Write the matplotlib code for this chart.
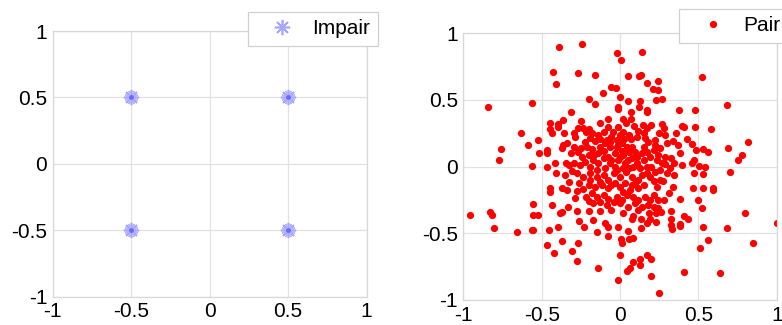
import matplotlib.pyplot as plt

# Impair: 4 constellation points
impair_x = [-0.5, 0.5, -0.5, 0.5]
impair_y = [0.5, 0.5, -0.5, -0.5]

# Pair: noisy cloud
pair_pts = [
    (-0.39, 0.90), (-0.245, 0.92), (-0.02, 0.855), (0.005, 0.80), (0.14, 0.86),
    (-0.43, 0.71), (-0.27, 0.70), (-0.16, 0.69), (-0.41, 0.62), (0.05, 0.68),
    (0.12, 0.68), (0.135, 0.69), (0.525, 0.675), (0.17, 0.63), (0.245, 0.64),
    (0.21, 0.585), (0.24, 0.575), (-0.06, 0.60), (-0.025, 0.59), (-0.11, 0.55),
    (-0.20, 0.51), (0.0, 0.52), (0.05, 0.49), (0.125, 0.49), (0.23, 0.50),
    (0.27, 0.505), (-0.565, 0.48), (-0.845, 0.45), (-0.16, 0.47), (-0.01, 0.445),
    (-0.015, 0.43), (0.12, 0.445), (0.175, 0.425), (0.175, 0.41), (0.375, 0.425),
    (0.48, 0.425), (0.685, 0.46), (-0.31, 0.41), (0.07, 0.41), (-0.635, 0.255),
    (0.58, 0.28), (0.395, 0.305), (0.41, 0.30), (0.48, 0.30), (-0.59, 0.16),
    (-0.76, 0.13), (-0.77, 0.05), (-0.525, 0.20), (-0.515, 0.10), (0.815, 0.185),
    (0.69, 0.14), (0.775, 0.09), (0.755, 0.05), (0.70, -0.04), (0.545, 0.0),
    (0.53, 0.135), (0.56, 0.11), (0.485, 0.125), (0.46, 0.17), (0.43, 0.21),
    (0.37, 0.16), (0.385, 0.10), (0.475, 0.05), (0.46, 0.025), (0.395, 0.0125),
    (0.505, 0.0075), (0.47, -0.05), (0.53, -0.055), (0.465, -0.16), (0.53, -0.16),
    (0.595, -0.16), (0.595, -0.175), (0.38, -0.245), (0.495, -0.25), (0.525, -0.31),
    (0.325, -0.33), (0.405, -0.37), (0.435, -0.395), (0.38, -0.43), (0.38, -0.445),
    (0.325, -0.39), (0.325, -0.44), (0.33, -0.465), (0.80, -0.35), (1.0, -0.42),
    (0.685, -0.46), (0.53, -0.45), (0.56, -0.55), (0.51, -0.61), (0.85, -0.57),
    (0.64, -0.80), (0.41, -0.79), (0.25, -0.95), (0.195, -0.82), (0.17, -0.66),
    (0.195, -0.695), (0.125, -0.74), (0.13, -0.69), (0.08, -0.715), (0.045, -0.78),
    (0.065, -0.76), (-0.015, -0.85), (-0.14, -0.76), (0.0, -0.66), (0.005, -0.54),
    (0.015, -0.57), (0.06, -0.54), (0.05, -0.48), (-0.01, -0.45), (-0.08, -0.45),
    (-0.075, -0.52), (-0.15, -0.49), (-0.095, -0.42), (-0.26, -0.41), (-0.23, -0.45),
    (-0.27, -0.57), (-0.275, -0.71), (-0.305, -0.635), (-0.37, -0.56), (-0.42, -0.65),
    (-0.465, -0.59), (-0.455, -0.475), (-0.395, -0.45), (-0.37, -0.34), (-0.385, -0.35),
    (-0.33, -0.305), (-0.275, -0.33), (-0.20, -0.33), (-0.13, -0.33), (0.085, -0.37),
    (0.135, -0.39), (0.175, -0.42), (0.19, -0.395), (0.23, -0.415), (0.23, -0.35),
    (0.26, -0.34), (0.185, -0.35), (0.075, -0.395), (0.135, -0.46), (0.085, -0.535),
    (-0.565, -0.475), (-0.555, -0.475), (-0.655, -0.49), (-0.805, -0.46), (-0.83, -0.34),
    (-0.82, -0.36), (-0.955, -0.36), (-0.555, -0.36), (-0.525, -0.36), (-0.555, -0.28),
    (-0.56, 0.0075), (-0.465, 0.0), (-0.45, -0.16), (-0.45, -0.19), (-0.435, -0.29),
    (-0.465, 0.125), (-0.465, 0.10), (-0.415, 0.03), (-0.41, -0.05), (-0.37, 0.14),
    (-0.365, 0.16), (-0.445, 0.33), (-0.445, 0.28), (-0.435, 0.25), (-0.395, 0.32),
    (-0.365, 0.35), (-0.395, 0.295), (-0.36, 0.25), (-0.34, 0.175), (-0.295, 0.25),
    (-0.285, 0.22), (-0.27, 0.29), (-0.25, 0.34), (-0.235, 0.29), (-0.22, 0.26),
    (-0.20, 0.28), (-0.18, 0.25), (-0.13, 0.33), (-0.075, 0.36), (-0.075, 0.30),
    (-0.01, 0.30), (0.02, 0.355), (0.04, 0.33), (0.07, 0.36), (0.09, 0.305),
    (0.145, 0.31), (0.175, 0.29), (0.195, 0.31), (0.265, 0.32), (0.28, 0.29),
    (0.25, 0.25), (0.29, 0.235), (0.355, 0.255), (0.335, 0.195), (0.30, 0.18),
    (0.225, 0.20), (0.225, 0.16), (0.11, 0.22), (0.07, 0.205), (0.055, 0.24),
    (0.115, 0.265), (0.025, 0.205), (-0.02, 0.20), (-0.06, 0.225), (-0.085, 0.20),
    (-0.125, 0.21), (-0.16, 0.195), (-0.25, 0.14), (-0.295, 0.15), (-0.27, 0.11),
    (-0.31, 0.10), (-0.18, 0.13), (-0.20, 0.09), (-0.065, 0.15), (-0.105, 0.12),
    (-0.08, 0.075), (-0.01, 0.16), (0.015, 0.12), (-0.03, 0.10), (0.055, 0.11),
    (0.075, 0.15), (0.15, 0.15), (0.17, 0.11), (0.215, 0.125), (0.255, 0.14),
    (0.245, 0.085), (0.29, 0.075), (0.325, 0.0625), (0.345, 0.025), (0.29, 0.02),
    (0.32, -0.0125), (0.30, -0.05), (0.345, -0.065), (0.255, -0.10), (0.215, -0.11),
    (0.235, -0.15), (0.275, -0.11), (0.17, -0.05), (0.17, 0.0), (0.13, -0.0125),
    (0.15, 0.05), (0.105, 0.025), (0.075, 0.0625), (0.03, 0.025), (0.0, 0.075),
    (-0.03, 0.0), (-0.065, 0.025), (-0.095, -0.0125), (-0.14, 0.025), (-0.17, 0.05),
    (-0.19, 0.0), (-0.225, 0.0375), (-0.255, 0.0125), (-0.295, 0.025), (-0.325, 0.0125),
    (-0.345, 0.03), (-0.35, -0.0625), (-0.305, -0.03), (-0.275, -0.05), (-0.325, -0.1125),
    (-0.265, -0.125), (-0.235, -0.075), (-0.19, -0.05), (-0.15, -0.075), (-0.105, -0.0625),
    (-0.075, -0.10), (-0.04, -0.05), (0.0, -0.075), (0.04, -0.0375), (0.075, -0.075),
    (0.115, -0.10), (0.15, -0.1375), (0.115, -0.1625), (0.075, -0.1375), (0.03, -0.125),
    (0.0, -0.15), (-0.03, -0.125), (-0.075, -0.1625), (-0.115, -0.1375), (-0.16, -0.15),
    (-0.20, -0.1375), (-0.235, -0.17), (-0.275, -0.18), (-0.34, -0.175), (-0.37, -0.1575),
    (-0.215, -0.225), (-0.18, -0.20), (-0.15, -0.225), (-0.105, -0.2125), (-0.075, -0.245),
    (-0.02, -0.225), (0.01, -0.25), (0.045, -0.2125), (0.085, -0.225), (0.115, -0.25),
    (0.16, -0.225), (0.19, -0.25), (0.215, -0.2125), (0.245, -0.25), (0.18, -0.2875),
    (0.14, -0.30), (0.095, -0.275), (0.05, -0.30), (0.0, -0.275), (-0.04, -0.2625),
    (-0.085, -0.2875), (-0.13, -0.2625), (-0.17, -0.275), (-0.20, -0.2575), (-0.285, -0.2375),
    (0.215, -0.30), (0.245, -0.3125), (0.28, -0.25), (0.34, -0.15), (0.31, -0.20),
    (0.02, -0.35), (-0.055, -0.325), (-0.17, -0.40), (0.115, -0.325), (-0.02, 0.15),
    (0.01, 0.175), (0.045, 0.15), (0.02, 0.0875), (-0.01, 0.05), (0.05, 0.05),
    (0.085, 0.0), (0.055, -0.0125), (0.02, -0.0125), (-0.02, -0.025), (-0.055, 0.05),
    (-0.105, 0.0625), (-0.14, 0.10), (-0.13, 0.15), (-0.095, 0.175), (-0.065, 0.1875),
    (-0.15, -0.025), (-0.19, -0.10), (-0.13, -0.1125), (-0.055, -0.1375), (0.02, -0.1875),
    (0.065, -0.175), (0.095, -0.125), (0.14, -0.0625), (0.105, 0.075), (0.14, 0.10),
    (0.095, 0.1125), (0.19, 0.075), (0.20, 0.0), (0.225, -0.0375), (0.19, -0.075),
    (0.255, -0.025), (0.265, 0.025), (0.235, 0.05), (0.18, 0.1875), (0.16, 0.2125),
    (0.15, 0.25), (0.02, 0.2625), (0.0, 0.2375), (-0.045, 0.2625), (-0.105, 0.2625),
    (-0.14, 0.2375), (-0.19, 0.2125), (-0.225, 0.1875), (-0.21, 0.15), (-0.245, 0.075),
    (-0.165, 0.0875),
]
pair_x = [p[0] for p in pair_pts]
pair_y = [p[1] for p in pair_pts]

ticks = [-1, -0.5, 0, 0.5, 1]
tick_labels = ["-1", "-0.5", "0", "0.5", "1"]

plt.rcParams["font.family"] = ["Liberation Sans", "DejaVu Sans"]

fig = plt.figure(figsize=(7.82, 3.25), dpi=100)
ax1 = fig.add_axes([0.0674, 0.087, 0.4015, 0.8175])
ax2 = fig.add_axes([0.5925, 0.077, 0.4008, 0.8206])


def style(ax):
    ax.set_xlim(-1, 1)
    ax.set_ylim(-1, 1)
    ax.set_xticks(ticks)
    ax.set_yticks(ticks)
    ax.set_xticklabels(tick_labels)
    ax.set_yticklabels(tick_labels)
    ax.tick_params(length=0, labelsize=15, pad=4)
    ax.grid(True, color="#e2e2e2", linewidth=0.9)
    ax.set_axisbelow(True)
    for s in ax.spines.values():
        s.set_color("#d8d8d8")
        s.set_linewidth(0.9)


style(ax1)
style(ax2)

leg_kw = dict(loc="upper left", fontsize=15, fancybox=False, edgecolor="#d0d0d0",
              framealpha=1, borderaxespad=0, borderpad=0.35,
              handlelength=2.6, handletextpad=0.15)

# Impair
ax1.plot(impair_x, impair_y, linestyle="none", marker=(8, 2, 0), markersize=11,
         markeredgewidth=1.2, color="#a6a6ff", label="Impair")
ax1.plot(impair_x, impair_y, linestyle="none", marker=(8, 2, 22.5), markersize=10,
         markeredgewidth=1.0, color="#b4b4ff")
ax1.plot(impair_x, impair_y, linestyle="none", marker="o", markersize=3.5,
         markeredgewidth=0, color="#6a6aff")
leg1 = ax1.legend(bbox_to_anchor=(0.622, 1.0715), **leg_kw)
leg1.get_frame().set_linewidth(0.9)

# Pair
ax2.plot(pair_x, pair_y, linestyle="none", marker="o", markersize=4.2,
         color="red", label="Pair")
leg2 = ax2.legend(bbox_to_anchor=(0.688, 1.091), **leg_kw)
leg2.get_frame().set_linewidth(0.9)

fig.savefig("out.png", dpi=100)
